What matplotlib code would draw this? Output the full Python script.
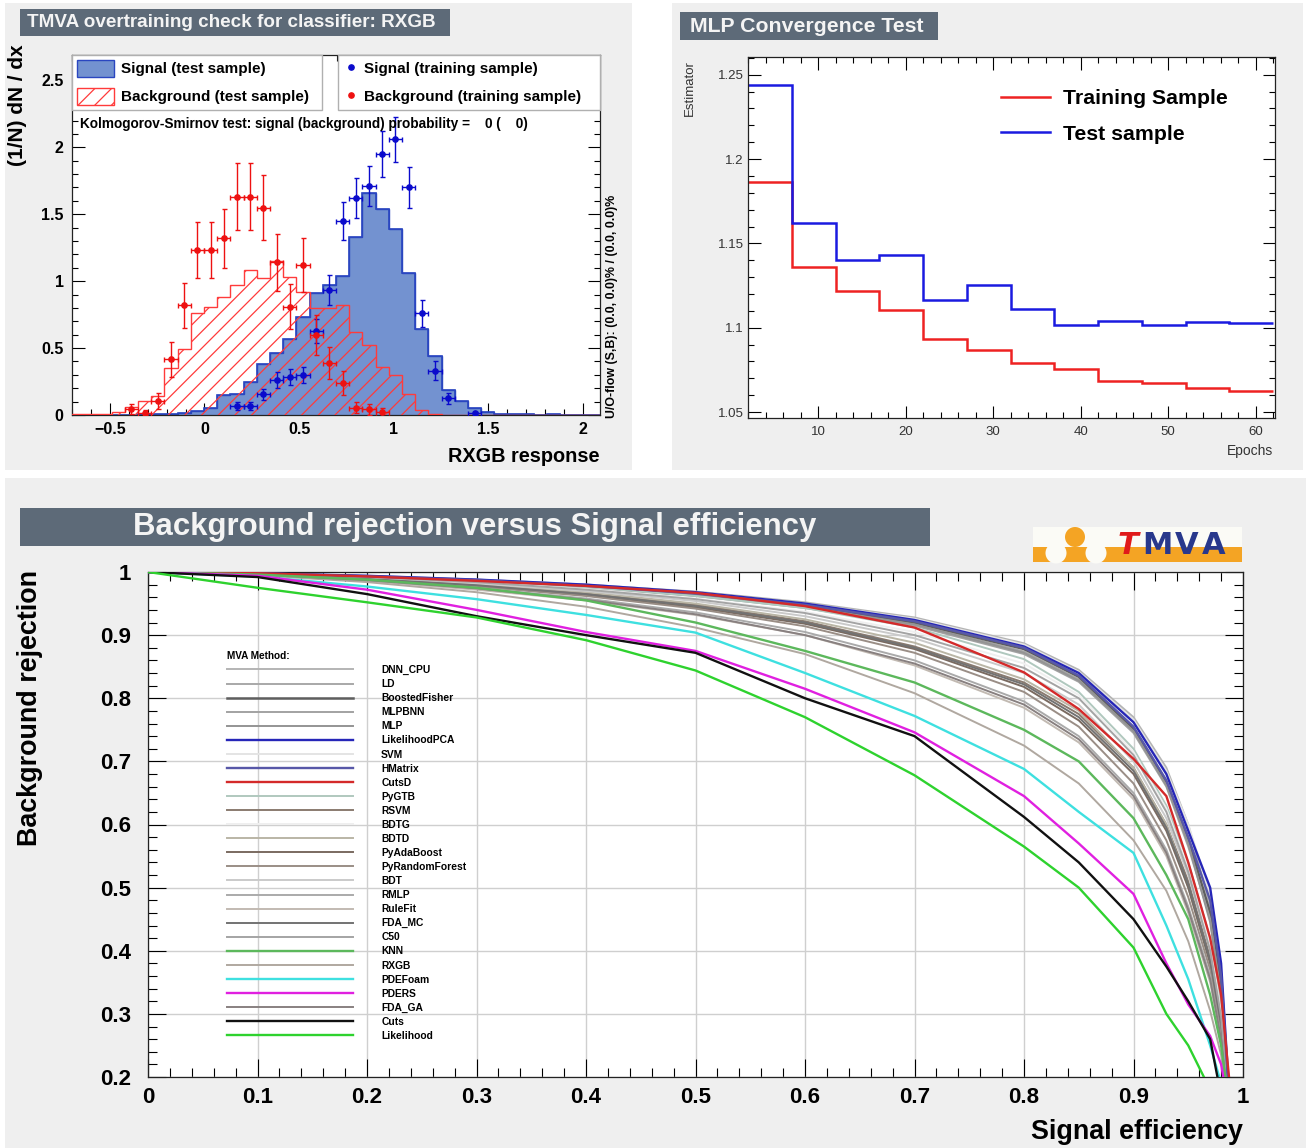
import numpy as np
import matplotlib
matplotlib.use("Agg")
import matplotlib.pyplot as plt
from matplotlib.patches import Rectangle, Circle, Patch
from matplotlib.lines import Line2D
from matplotlib.ticker import MultipleLocator, FuncFormatter

plt.rcParams['font.family'] = ['Liberation Sans', 'DejaVu Sans']
plt.rcParams['hatch.linewidth'] = 0.9

W, H = 1306, 1148

# ---------------- Overtraining check (RXGB) ----------------
resp_range = (-0.7, 2.09)
n_bins = 40
sig_test = [0, 0, 0, 0, 0, 0.004, 0.006, 0.01, 0.015, 0.03,
            0.05, 0.15, 0.16, 0.25, 0.38, 0.46, 0.57, 0.73, 0.91, 0.97,
            1.04, 1.33, 1.66, 1.54, 1.39, 1.06, 0.64, 0.44, 0.19, 0.105,
            0.05, 0.025, 0.01, 0.006, 0.004, 0.003, 0.004, 0.002, 0.003, 0.002]
bkg_test = [0.005, 0.004, 0.01, 0.02, 0.06, 0.105, 0.14, 0.35, 0.49, 0.76,
            0.81, 0.88, 0.975, 1.08, 1.02, 1.15, 1.03, 0.92, 0.80, 0.80,
            0.82, 0.62, 0.52, 0.36, 0.30, 0.16, 0.04, 0.01, 0.003, 0,
            0, 0, 0, 0, 0, 0, 0, 0, 0, 0]
sig_train_bin = [12, 13, 14, 15, 16, 17, 18, 19, 20, 21, 22, 23, 24, 25, 26, 27, 28, 30]
sig_train = [0.07, 0.07, 0.155, 0.26, 0.285, 0.30, 0.63, 0.935, 1.45, 1.62,
             1.71, 1.95, 2.06, 1.70, 0.76, 0.33, 0.125, 0.012]
sig_train_err = [0.03, 0.03, 0.04, 0.06, 0.06, 0.06, 0.09, 0.11, 0.14, 0.15,
                 0.15, 0.17, 0.17, 0.15, 0.10, 0.07, 0.04, 0.01]
bkg_train_bin = [4, 5, 6, 7, 8, 9, 10, 11, 12, 13, 14, 15, 16, 17, 18, 19, 20, 21, 22, 23]
bkg_train = [0.045, 0.017, 0.107, 0.417, 0.82, 1.23, 1.23, 1.32, 1.63, 1.63,
             1.55, 1.14, 0.81, 1.12, 0.60, 0.39, 0.24, 0.055, 0.042, 0.022]
bkg_train_err = [0.04, 0.02, 0.06, 0.13, 0.17, 0.21, 0.21, 0.22, 0.25, 0.25,
                 0.24, 0.21, 0.17, 0.20, 0.15, 0.12, 0.09, 0.04, 0.04, 0.03]

# ---------------- MLP convergence ----------------
epoch_edges = [2, 7, 12, 17, 22, 27, 32, 37, 42, 47, 52, 57, 62]
est_train = [1.1865, 1.136, 1.1216, 1.1107, 1.0933, 1.0869, 1.0794, 1.0754,
             1.0687, 1.0671, 1.0641, 1.0627]
est_test = [1.2437, 1.162, 1.140, 1.143, 1.1167, 1.1252, 1.111, 1.1018,
            1.1042, 1.1018, 1.1032, 1.1028]

# ---------------- ROC curves ----------------
sig_eff = [0.0, 0.1, 0.2, 0.3, 0.4, 0.5, 0.6, 0.7, 0.8, 0.85, 0.9, 0.93, 0.95, 0.97, 0.98, 0.99]
rej_dnn_cpu = [1.0, .998, .994, .988, .980, .969, .952, .928, .887, .845, .770, .690, .600, .470, .350, .12]
rej_ld = [1.0, .998, .993, .986, .977, .964, .946, .918, .874, .830, .750, .665, .575, .455, .330, .10]
rej_boostedfisher = [1.0, .998, .993, .986, .977, .965, .947, .920, .878, .834, .752, .668, .578, .460, .340, .10]
rej_mlpbnn = [1.0, .997, .992, .985, .975, .962, .943, .915, .870, .826, .745, .660, .565, .450, .320, .08]
rej_mlp = [1.0, .997, .993, .986, .976, .963, .945, .917, .872, .828, .748, .662, .570, .445, .330, .08]
rej_likelihoodpca = [1.0, .998, .994, .988, .980, .968, .950, .924, .882, .840, .762, .680, .590, .500, .380, .10]
rej_svm = [1.0, .998, .994, .988, .980, .968, .950, .926, .885, .842, .766, .685, .600, .490, .370, .12]
rej_hmatrix = [1.0, .998, .993, .987, .978, .966, .948, .922, .880, .836, .755, .670, .580, .480, .360, .10]
rej_cutsd = [1.0, .998, .993, .986, .978, .967, .946, .912, .841, .783, .704, .645, .540, .420, .330, .15]
rej_pygtb = [1.0, .998, .993, .986, .976, .962, .943, .912, .862, .810, .720, .630, .540, .420, .310, .10]
rej_rsvm = [1.0, .997, .990, .980, .966, .948, .922, .882, .825, .775, .690, .600, .510, .390, .290, .10]
rej_bdtg = [1.0, .998, .992, .984, .973, .958, .937, .905, .855, .805, .715, .625, .530, .410, .300, .10]
rej_bdtd = [1.0, .997, .990, .981, .968, .950, .925, .888, .830, .780, .690, .600, .500, .380, .280, .10]
rej_pyadaboost = [1.0, .997, .989, .978, .963, .944, .918, .878, .818, .765, .680, .590, .500, .380, .280, .10]
rej_pyrandomforest = [1.0, .996, .988, .977, .962, .942, .914, .872, .810, .755, .665, .575, .485, .370, .270, .10]
rej_bdt = [1.0, .997, .991, .982, .970, .954, .930, .895, .840, .790, .700, .610, .520, .400, .290, .10]
rej_rmlp = [1.0, .996, .987, .975, .958, .936, .905, .860, .795, .740, .650, .560, .470, .360, .260, .10]
rej_rulefit = [1.0, .996, .986, .972, .955, .932, .900, .852, .785, .730, .640, .550, .460, .350, .260, .10]
rej_fda_mc = [1.0, .997, .989, .979, .965, .946, .920, .880, .822, .770, .685, .595, .505, .385, .285, .10]
rej_c50 = [1.0, .998, .992, .984, .972, .957, .935, .900, .848, .800, .710, .620, .525, .400, .295, .10]
rej_knn = [1.0, .996, .988, .975, .955, .920, .875, .825, .750, .700, .610, .520, .450, .330, .250, .12]
rej_rxgb = [1.0, .995, .984, .968, .945, .912, .870, .808, .725, .665, .575, .495, .415, .305, .235, .10]
rej_pdefoam = [1.0, .993, .977, .957, .932, .904, .840, .772, .688, .620, .555, .440, .355, .250, .190, .10]
rej_pders = [1.0, .994, .972, .940, .905, .875, .815, .746, .645, .570, .490, .380, .315, .265, .220, .12]
rej_fda_ga = [1.0, .996, .987, .974, .956, .933, .900, .855, .790, .735, .645, .555, .465, .355, .260, .10]
rej_cuts = [1.0, .992, .965, .930, .900, .872, .800, .740, .612, .540, .450, .375, .320, .260, .170, .05]
rej_likelihood = [1.0, .975, .952, .928, .892, .844, .770, .678, .565, .500, .405, .300, .250, .180, .120, .05]

method_names = ["DNN_CPU", "LD", "BoostedFisher", "MLPBNN", "MLP", "LikelihoodPCA", "SVM",
                "HMatrix", "CutsD", "PyGTB", "RSVM", "BDTG", "BDTD", "PyAdaBoost",
                "PyRandomForest", "BDT", "RMLP", "RuleFit", "FDA_MC", "C50", "KNN", "RXGB",
                "PDEFoam", "PDERS", "FDA_GA", "Cuts", "Likelihood"]
method_rej = [rej_dnn_cpu, rej_ld, rej_boostedfisher, rej_mlpbnn, rej_mlp, rej_likelihoodpca,
              rej_svm, rej_hmatrix, rej_cutsd, rej_pygtb, rej_rsvm, rej_bdtg, rej_bdtd,
              rej_pyadaboost, rej_pyrandomforest, rej_bdt, rej_rmlp, rej_rulefit, rej_fda_mc,
              rej_c50, rej_knn, rej_rxgb, rej_pdefoam, rej_pders, rej_fda_ga, rej_cuts,
              rej_likelihood]
method_colors = ["#b4b4b4", "#a8a8a8", "#5e5e5e", "#a2a2a2", "#949494", "#2626b8", "#e4e4e4",
                 "#5858a8", "#d42a2a", "#b0c8be", "#8a7b70", "#efefef", "#bab6a6", "#7a6a60",
                 "#9a8e86", "#cacaca", "#aaaaaa", "#c2bab2", "#727272", "#a4a4a4", "#5cb85c",
                 "#b0a8a0", "#3ee0e0", "#e020e0", "#888080", "#111111", "#2ed22e"]

# ---------------- helpers ----------------
def fx(px):
    return px / W

def fy(py):
    return 1 - py / H

def axrect(l, t, r, b):
    return [l / W, 1 - b / H, (r - l) / W, (b - t) / H]

fig = plt.figure(figsize=(W / 100, H / 100), dpi=100)
fig.patch.set_facecolor("white")

bg = fig.add_axes([0, 0, 1, 1], zorder=-10)
bg.set_xlim(0, W)
bg.set_ylim(H, 0)
bg.axis("off")

panel_c = "#efefef"
title_c = "#5d6a78"
for (x0, y0, x1, y1) in [(5, 3, 632, 470), (672, 3, 1303, 470), (5, 478, 1306, 1148)]:
    bg.add_patch(Rectangle((x0, y0), x1 - x0, y1 - y0, color=panel_c, lw=0))

# title boxes
bg.add_patch(Rectangle((20, 9), 430, 27, color=title_c, lw=0))
bg.text(27, 22.5, "TMVA overtraining check for classifier: RXGB", color="#f4f4f4",
        fontsize=13.6, fontweight="bold", va="center", ha="left")
bg.add_patch(Rectangle((680, 12), 258, 28, color=title_c, lw=0))
bg.text(690, 26, "MLP Convergence Test", color="#f4f4f4",
        fontsize=15.3, fontweight="bold", va="center", ha="left")
bg.add_patch(Rectangle((20, 508), 910, 38, color=title_c, lw=0))
bg.text(475, 527, "Background rejection versus Signal efficiency", color="#f4f4f4",
        fontsize=22.4, fontweight="bold", va="center", ha="center")

# TMVA logo
bg.add_patch(Rectangle((1033, 527), 209, 35, color="#fbfbf6", lw=0))
bg.add_patch(Rectangle((1033, 547), 209, 15, color="#f4a424", lw=0))
bg.add_patch(Circle((1075, 537), 10, color="#f4a424", lw=0))
bg.add_patch(Circle((1056, 553), 10.5, color="#fbfbf6", lw=0))
bg.add_patch(Circle((1096, 553), 10.5, color="#fbfbf6", lw=0))
for ch, xc, col, st in [("T", 1128, "#e01a1a", "italic"), ("M", 1157, "#28388c", "normal"),
                        ("V", 1187, "#28388c", "normal"), ("A", 1214, "#28388c", "normal")]:
    bg.text(xc, 545, ch, color=col, fontsize=22, fontweight="bold", fontstyle=st,
            ha="center", va="center", family=["DejaVu Sans"])


def root_ticks(ax, major_len=8, minor_len=4):
    ax.tick_params(which="both", direction="in", top=True, right=True)
    ax.tick_params(which="major", length=major_len, width=0.8)
    ax.tick_params(which="minor", length=minor_len, width=0.8)
    for s in ax.spines.values():
        s.set_linewidth(0.9)
        s.set_color("#222222")

fmt_g = FuncFormatter(lambda v, p: ("%g" % round(v, 3)).replace("-", "\u2212"))

# ---------------- Panel 1 ----------------
ax1 = fig.add_axes(axrect(72, 55, 600, 415))
edges = np.linspace(resp_range[0], resp_range[1], n_bins + 1)
centers = 0.5 * (edges[:-1] + edges[1:])
bw = edges[1] - edges[0]
ax1.stairs(sig_test, edges, fill=True, facecolor="#7392d0", edgecolor="#2a46c0", lw=1.0, zorder=2)
ax1.stairs(sig_test, edges, fill=False, color="#2a46c0", lw=1.2, zorder=2.1)
ax1.stairs(bkg_test, edges, fill=True, facecolor="none", edgecolor="#ff3b3b", hatch="//", lw=1.0, zorder=3)
ax1.errorbar(centers[sig_train_bin], sig_train, yerr=sig_train_err, xerr=bw / 2, fmt="o",
             ms=3.8, color="#0a0acc", elinewidth=1.0, capsize=1.8, zorder=4)
ax1.errorbar(centers[bkg_train_bin], bkg_train, yerr=bkg_train_err, xerr=bw / 2, fmt="o",
             ms=3.8, color="#ee1111", elinewidth=1.0, capsize=1.8, zorder=4)
ax1.set_xlim(resp_range)
ax1.set_ylim(0, 2.69)
ax1.xaxis.set_major_locator(MultipleLocator(0.5))
ax1.xaxis.set_minor_locator(MultipleLocator(0.1))
ax1.yaxis.set_major_locator(MultipleLocator(0.5))
ax1.yaxis.set_minor_locator(MultipleLocator(0.1))
ax1.xaxis.set_major_formatter(fmt_g)
ax1.yaxis.set_major_formatter(fmt_g)
root_ticks(ax1, 9, 4.5)
for lab in ax1.get_xticklabels() + ax1.get_yticklabels():
    lab.set_fontweight("bold")
    lab.set_fontsize(11.5)
ax1.tick_params(axis="y", pad=6)
ax1.tick_params(axis="x", pad=5)

h_sig = Patch(facecolor="#7392d0", edgecolor="#2a46c0", lw=1.0)
h_bkg = Patch(facecolor="white", edgecolor="#ff3b3b", hatch="//", lw=1.0)
leg1 = ax1.legend([h_sig, h_bkg], ["Signal (test sample)", "Background (test sample)"],
                  loc="upper left", bbox_to_anchor=(0, 0, 0.4735, 1), mode="expand",
                  prop={"weight": "bold", "size": 11}, handlelength=2.45, handleheight=1.3,
                  handletextpad=0.45, labelspacing=0.75, borderpad=0.32, borderaxespad=0,
                  fancybox=False, framealpha=1, edgecolor="#b0b0b0")
leg1.get_frame().set_linewidth(1.0)
ax1.add_artist(leg1)
h_st = Line2D([], [], marker="o", ls="none", ms=3.8, color="#0a0acc")
h_bt = Line2D([], [], marker="o", ls="none", ms=3.8, color="#ee1111")
leg2 = ax1.legend([h_st, h_bt], ["Signal (training sample)", "Background (training sample)"],
                  loc="upper left", bbox_to_anchor=(0.504, 0, 0.496, 1), mode="expand",
                  prop={"weight": "bold", "size": 11}, handlelength=1.0, handleheight=1.3,
                  handletextpad=0.4, labelspacing=0.75, borderpad=0.32, borderaxespad=0,
                  fancybox=False, framealpha=1, edgecolor="#b0b0b0")
leg2.get_frame().set_linewidth(1.0)

fig.text(fx(80), fy(124), "Kolmogorov-Smirnov test: signal (background) probability =    0 (    0)",
         fontsize=9.8, fontweight="bold", ha="left", va="center")
fig.text(fx(612), fy(418), "U/O-flow (S,B): (0.0, 0.0)% / (0.0, 0.0)%", rotation=90,
         fontsize=8.9, fontweight="bold", ha="center", va="bottom")
fig.text(fx(18), fy(44), "(1/N) dN / dx", rotation=90, fontsize=15, fontweight="bold",
         ha="center", va="top")
fig.text(fx(600), fy(456), "RXGB response", fontsize=14.3, fontweight="bold", ha="right", va="center")

# ---------------- Panel 2 ----------------
ax2 = fig.add_axes(axrect(748, 57, 1275, 418))
ax2.stairs(est_train, epoch_edges, baseline=None, color="#ee2222", lw=1.8, label="Training Sample")
ax2.stairs(est_test, epoch_edges, baseline=None, color="#1a1ae0", lw=1.8, label="Test sample")
ax2.set_xlim(2, 62.2)
ax2.set_ylim(1.0465, 1.2605)
ax2.xaxis.set_major_locator(MultipleLocator(10))
ax2.xaxis.set_minor_locator(MultipleLocator(2))
ax2.yaxis.set_major_locator(MultipleLocator(0.05))
ax2.yaxis.set_minor_locator(MultipleLocator(0.01))
ax2.xaxis.set_major_formatter(fmt_g)
ax2.yaxis.set_major_formatter(fmt_g)
root_ticks(ax2, 9, 4.5)
for lab in ax2.get_xticklabels() + ax2.get_yticklabels():
    lab.set_fontsize(9.5)
    lab.set_color("#333333")
ax2.tick_params(axis="y", pad=3)
ax2.tick_params(axis="x", pad=6)
leg3 = ax2.legend(loc="upper left", bbox_to_anchor=(fx(1001), fy(89)), bbox_transform=fig.transFigure,
                  frameon=False, prop={"weight": "bold", "size": 15.3}, handlelength=2.3,
                  handletextpad=0.6, labelspacing=0.78, borderpad=0, borderaxespad=0)
fig.text(fx(690), fy(60), "Estimator", rotation=90, fontsize=9.5, ha="center", va="top", color="#333333")
fig.text(fx(1273), fy(451), "Epochs", fontsize=10, ha="right", va="center", color="#333333")

# ---------------- Panel 3 ----------------
ax3 = fig.add_axes(axrect(148, 572, 1243, 1077))
ax3.grid(True, which="major", color="#cfcfcf", lw=1.0, zorder=0)
colored = {"LikelihoodPCA", "HMatrix", "CutsD", "KNN", "PDEFoam", "PDERS", "Cuts", "Likelihood"}
handles = []
for name, rej, col in zip(method_names, method_rej, method_colors):
    lw = 1.7 if name in colored else 1.4
    if name == "BoostedFisher":
        lw = 1.8
    (ln,) = ax3.plot(sig_eff, rej, color=col, lw=lw, zorder=3 if name in colored else 2,
                     solid_joinstyle="round")
    handles.append(ln)
ax3.set_xlim(0, 1)
ax3.set_ylim(0.2, 1)
ax3.xaxis.set_major_locator(MultipleLocator(0.1))
ax3.xaxis.set_minor_locator(MultipleLocator(0.02))
ax3.yaxis.set_major_locator(MultipleLocator(0.1))
ax3.yaxis.set_minor_locator(MultipleLocator(0.02))
ax3.xaxis.set_major_formatter(fmt_g)
ax3.yaxis.set_major_formatter(fmt_g)
root_ticks(ax3, 13, 6.5)
for lab in ax3.get_xticklabels() + ax3.get_yticklabels():
    lab.set_fontweight("bold")
    lab.set_fontsize(16)
ax3.tick_params(axis="y", pad=12)
ax3.tick_params(axis="x", pad=7)
ax3.set_axisbelow(True)
leg4 = ax3.legend(handles, method_names, loc="upper left", bbox_to_anchor=(fx(227), fy(651)),
                  bbox_transform=fig.transFigure, frameon=False,
                  prop={"weight": "bold", "size": 7.4}, title="MVA Method:",
                  title_fontproperties={"weight": "bold", "size": 7.2}, alignment="left",
                  handlelength=12.3, handletextpad=2.7, labelspacing=0.395, borderpad=0,
                  borderaxespad=0)
fig.text(fx(30), fy(570), "Background rejection", rotation=90, fontsize=19.4, fontweight="bold",
         ha="center", va="top")
fig.text(fx(1243), fy(1132), "Signal efficiency", fontsize=19.4, fontweight="bold",
         ha="right", va="center")

fig.savefig("out.png", dpi=100, facecolor="white")
